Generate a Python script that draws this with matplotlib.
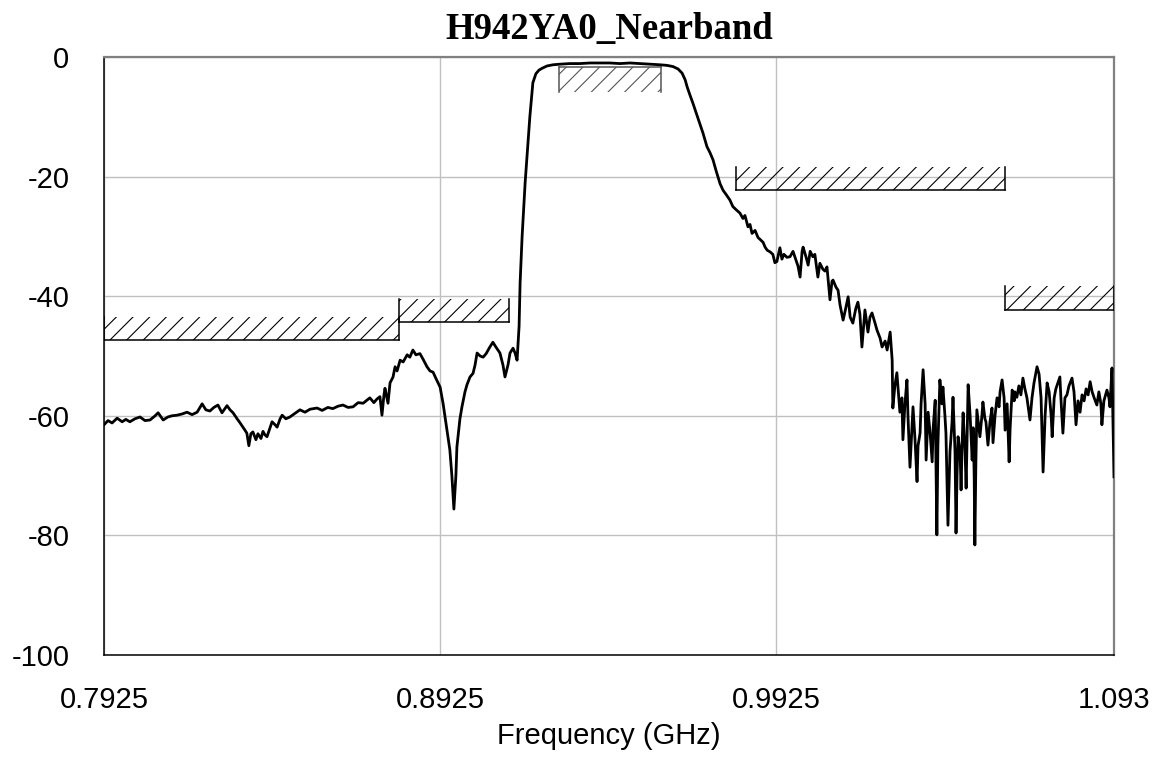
import matplotlib
matplotlib.use("Agg")
import matplotlib.pyplot as plt
from matplotlib.patches import Rectangle

freq_ghz = [
    0.7925, 0.7937, 0.7949, 0.7964, 0.7979, 0.7990, 0.8002, 0.8017, 0.8032, 0.8047,
    0.8062, 0.8077, 0.8086, 0.8101, 0.8115, 0.8127, 0.8142, 0.8157, 0.8172, 0.8187,
    0.8202, 0.8217, 0.8228, 0.8240, 0.8252, 0.8264, 0.8276, 0.8291, 0.8300, 0.8309,
    0.8321, 0.8330, 0.8342, 0.8350, 0.8356, 0.8362, 0.8368, 0.8377, 0.8383, 0.8392,
    0.8398, 0.8404, 0.8410, 0.8419, 0.8425, 0.8434, 0.8440, 0.8449, 0.8455, 0.8466,
    0.8478, 0.8493, 0.8508, 0.8523, 0.8538, 0.8559, 0.8574, 0.8591, 0.8606, 0.8621,
    0.8636, 0.8651, 0.8666, 0.8681, 0.8696, 0.8707, 0.8716, 0.8728, 0.8737, 0.8746,
    0.8752, 0.8758, 0.8761, 0.8770, 0.8776, 0.8785, 0.8791, 0.8797, 0.8806, 0.8815,
    0.8827, 0.8835, 0.8844, 0.8853, 0.8865, 0.8874, 0.8886, 0.8895, 0.8904, 0.8913,
    0.8925, 0.8934, 0.8943, 0.8948, 0.8954, 0.8960, 0.8966, 0.8972, 0.8975, 0.8984,
    0.8990, 0.8999, 0.9005, 0.9014, 0.9023, 0.9029, 0.9035, 0.9044, 0.9053, 0.9062,
    0.9073, 0.9082, 0.9091, 0.9103, 0.9112, 0.9118, 0.9127, 0.9133, 0.9142, 0.9148,
    0.9154, 0.9160, 0.9163, 0.9169, 0.9178, 0.9187, 0.9192, 0.9201, 0.9210, 0.9219,
    0.9228, 0.9243, 0.9261, 0.9282, 0.9311, 0.9341, 0.9371, 0.9401, 0.9430, 0.9460,
    0.9490, 0.9520, 0.9550, 0.9579, 0.9600, 0.9618, 0.9633, 0.9645, 0.9654, 0.9660,
    0.9668, 0.9677, 0.9692, 0.9707, 0.9719, 0.9728, 0.9737, 0.9746, 0.9758, 0.9767,
    0.9776, 0.9787, 0.9796, 0.9805, 0.9817, 0.9826, 0.9832, 0.9841, 0.9847, 0.9853,
    0.9862, 0.9871, 0.9877, 0.9886, 0.9892, 0.9898, 0.9907, 0.9915, 0.9921, 0.9927,
    0.9936, 0.9942, 0.9948, 0.9957, 0.9966, 0.9975, 0.9984, 0.9990, 0.9996, 1.0002,
    1.0005, 1.0014, 1.0020, 1.0026, 1.0034, 1.0040, 1.0049, 1.0055, 1.0064, 1.0070,
    1.0076, 1.0085, 1.0091, 1.0094, 1.0103, 1.0109, 1.0115, 1.0124, 1.0130, 1.0139,
    1.0145, 1.0153, 1.0162, 1.0168, 1.0174, 1.0180, 1.0189, 1.0198, 1.0204, 1.0210,
    1.0219, 1.0225, 1.0234, 1.0240, 1.0249, 1.0255, 1.0264, 1.0270, 1.0272, 1.0278,
    1.0284, 1.0293, 1.0299, 1.0302, 1.0308, 1.0314, 1.0317, 1.0323, 1.0329, 1.0332,
    1.0338, 1.0344, 1.0347, 1.0353, 1.0356, 1.0362, 1.0368, 1.0371, 1.0377, 1.0383,
    1.0389, 1.0392, 1.0398, 1.0400, 1.0403, 1.0406, 1.0412, 1.0418, 1.0421, 1.0427,
    1.0430, 1.0436, 1.0442, 1.0448, 1.0451, 1.0457, 1.0460, 1.0463, 1.0466, 1.0472,
    1.0475, 1.0478, 1.0481, 1.0487, 1.0490, 1.0493, 1.0496, 1.0502, 1.0508, 1.0511,
    1.0514, 1.0516, 1.0519, 1.0522, 1.0528, 1.0531, 1.0537, 1.0540, 1.0546, 1.0549,
    1.0555, 1.0561, 1.0567, 1.0570, 1.0576, 1.0582, 1.0588, 1.0591, 1.0597, 1.0603,
    1.0606, 1.0612, 1.0618, 1.0621, 1.0627, 1.0633, 1.0635, 1.0641, 1.0647, 1.0653,
    1.0659, 1.0665, 1.0671, 1.0680, 1.0686, 1.0692, 1.0701, 1.0707, 1.0713, 1.0719,
    1.0725, 1.0731, 1.0737, 1.0743, 1.0746, 1.0752, 1.0757, 1.0763, 1.0769, 1.0772,
    1.0778, 1.0784, 1.0790, 1.0796, 1.0805, 1.0811, 1.0817, 1.0823, 1.0829, 1.0835,
    1.0841, 1.0847, 1.0853, 1.0859, 1.0865, 1.0871, 1.0879, 1.0885, 1.0891, 1.0894,
    1.0900, 1.0909, 1.0915, 1.0918, 1.0924, 1.0930,
]
s21_db = [
    -61.5, -60.8, -61.2, -60.4, -61.0, -60.6, -61.0, -60.5, -60.2, -60.8,
    -60.7, -60.0, -59.5, -60.7, -60.2, -60.0, -59.9, -59.7, -59.4, -59.8,
    -59.4, -58.0, -59.0, -59.2, -58.6, -58.2, -59.5, -58.3, -59.0, -59.5,
    -60.5, -61.2, -62.2, -62.9, -65.0, -63.0, -62.7, -64.0, -63.0, -63.8,
    -62.6, -63.2, -63.5, -62.0, -61.0, -61.5, -61.9, -60.5, -59.9, -60.5,
    -60.2, -59.6, -59.0, -59.4, -58.9, -58.7, -59.1, -58.6, -58.8, -58.4,
    -58.2, -58.6, -58.5, -57.8, -57.9, -57.4, -57.0, -57.8, -57.2, -56.8,
    -59.9, -56.5, -55.4, -57.9, -54.5, -53.5, -51.8, -52.5, -50.7, -51.0,
    -49.8, -50.2, -49.0, -49.8, -49.6, -50.5, -51.8, -52.5, -52.7, -53.8,
    -55.2, -58.0, -61.5, -63.5, -65.7, -70.0, -75.6, -70.0, -65.2, -60.5,
    -58.5, -56.0, -54.8, -53.5, -52.9, -51.5, -49.5, -50.0, -50.2, -49.6,
    -48.5, -47.7, -48.5, -49.5, -51.5, -53.5, -51.5, -49.5, -48.7, -49.5,
    -50.7, -45.0, -37.8, -30.0, -21.0, -14.0, -10.0, -4.3, -2.8, -2.2,
    -1.9, -1.5, -1.3, -1.2, -1.1, -1.1, -1.0, -1.0, -1.0, -1.1,
    -1.0, -1.1, -1.2, -1.3, -1.4, -1.6, -2.0, -2.7, -3.8, -5.0,
    -6.3, -7.7, -10.2, -12.7, -15.0, -16.0, -17.2, -19.0, -21.2, -22.3,
    -23.0, -23.9, -25.0, -25.5, -26.1, -27.0, -26.5, -28.4, -28.0, -29.5,
    -29.0, -30.2, -30.5, -31.0, -31.8, -32.3, -32.6, -33.0, -34.4, -34.2,
    -31.9, -33.8, -33.0, -33.5, -33.4, -32.5, -34.0, -35.0, -36.8, -32.5,
    -31.8, -33.5, -34.8, -32.5, -33.4, -33.0, -36.8, -34.5, -35.5, -35.8,
    -35.1, -40.6, -37.5, -37.3, -38.5, -39.0, -41.5, -44.0, -42.5, -40.1,
    -43.5, -44.5, -42.0, -41.0, -43.0, -48.5, -42.3, -46.0, -43.5, -42.8,
    -44.5, -45.7, -47.0, -48.5, -47.5, -49.0, -46.0, -50.7, -58.7, -55.0,
    -52.8, -59.4, -57.0, -64.0, -58.0, -54.0, -60.0, -68.6, -62.0, -58.5,
    -64.0, -71.0, -65.0, -62.9, -58.0, -52.3, -58.0, -67.4, -59.4, -63.0,
    -67.7, -62.0, -57.4, -66.0, -79.9, -65.0, -54.0, -58.0, -55.2, -60.0,
    -62.9, -78.3, -66.0, -61.2, -56.9, -66.0, -79.6, -70.0, -63.5, -66.0,
    -72.4, -65.0, -59.5, -66.0, -72.1, -63.0, -54.8, -60.0, -67.4, -62.0,
    -70.0, -81.6, -68.0, -59.0, -62.0, -63.5, -60.0, -57.7, -60.5, -61.0,
    -64.9, -61.0, -58.7, -64.5, -60.0, -57.0, -58.5, -56.0, -54.0, -57.0,
    -62.4, -58.0, -67.7, -62.0, -55.7, -57.5, -56.0, -56.9, -55.0, -56.5,
    -53.7, -55.5, -57.0, -60.7, -57.0, -54.5, -51.8, -53.0, -57.0, -69.4,
    -60.0, -54.5, -56.0, -60.0, -63.5, -57.0, -55.5, -54.5, -53.5, -57.0,
    -62.9, -57.0, -56.5, -55.0, -53.7, -56.0, -61.5, -57.5, -59.4, -56.5,
    -57.5, -55.5, -56.5, -54.3, -56.0, -57.0, -58.2, -56.0, -58.0, -61.5,
    -57.5, -55.7, -57.0, -58.5, -52.0, -70.2,
]

# spec mask segments
mask_start = [0.7925, 0.8803, 0.9279, 0.9805, 1.0606]
mask_stop = [0.8803, 0.9130, 0.9582, 1.0606, 1.0930]
mask_limit = [-47.3, -44.3, -1.7, -22.3, -42.3]
mask_other = [-43.5, -40.5, -5.9, -18.4, -38.3]   # far edge of hatched band

xticks = [0.7925, 0.8925, 0.9925, 1.093]
xtick_labels = ['0.7925', '0.8925', '0.9925', '1.093']
yticks = [0, -20, -40, -60, -80, -100]

plt.rcParams['hatch.linewidth'] = 0.8
plt.rcParams['axes.unicode_minus'] = False
plt.rcParams['font.family'] = ['Liberation Sans', 'DejaVu Sans']

fig = plt.figure(figsize=(11.63, 7.6), dpi=100)
ax = fig.add_axes([104 / 1163, 1 - 655 / 760, 1010 / 1163, 598 / 760])

ax.plot(freq_ghz, s21_db, color='black', lw=2.0, zorder=4)

for i in range(len(mask_start)):
    x0, x1 = mask_start[i], mask_stop[i]
    lo = min(mask_limit[i], mask_other[i])
    hi = max(mask_limit[i], mask_other[i])
    col = '#555555' if i == 2 else 'black'
    ax.add_patch(Rectangle((x0, lo), x1 - x0, hi - lo, facecolor='none',
                           edgecolor=col, lw=0, hatch='//', zorder=3))
    ax.plot([x0, x1], [mask_limit[i], mask_limit[i]], color=col, lw=1.1, zorder=3)
    ax.plot([x0, x0], [lo, hi], color=col, lw=1.1, zorder=3)
    ax.plot([x1, x1], [lo, hi], color=col, lw=1.1, zorder=3)

ax.set_xlim(0.7925, 1.093)
ax.set_ylim(-100, 0)
ax.set_xticks(xticks)
ax.set_xticklabels(xtick_labels)
ax.set_yticks(yticks)
ax.tick_params(length=0, labelsize=21)
ax.tick_params(axis='y', pad=25)
ax.tick_params(axis='x', pad=22)
ax.grid(True, color='#c0c0c0', lw=1.0, zorder=0)
ax.set_axisbelow(True)

for s in ['left', 'bottom']:
    ax.spines[s].set_color('black')
    ax.spines[s].set_linewidth(1.1)
for s in ['top', 'right']:
    ax.spines[s].set_color('#808080')
    ax.spines[s].set_linewidth(1.6)

ax.set_xlabel('Frequency (GHz)', fontsize=21, labelpad=6)
ax.set_title('H942YA0_Nearband', fontsize=26.5, fontweight='bold',
             family=['Liberation Serif', 'DejaVu Serif'], pad=13)

fig.savefig('out.png', dpi=100)
